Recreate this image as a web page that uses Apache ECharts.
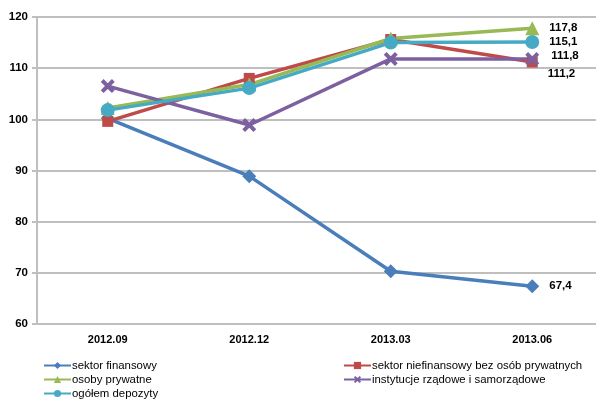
<!DOCTYPE html>
<html>
<head>
<meta charset="utf-8">
<script src="https://cdn.jsdelivr.net/npm/echarts@6/dist/echarts.min.js"></script>
<style>
html, body { margin: 0; padding: 0; background: #fff; }
#main { width: 596px; height: 401px; }
</style>
</head>
<body>
<div id="main"></div>
<script>
// kwartały
var kwartaly = ['2012.09', '2012.12', '2013.03', '2013.06'];

// wartości serii
var finansowy = [100.2, 88.9, 70.3, 67.4];
var niefinansowy = [99.6, 108.0, 115.6, 111.2];
var osoby = [102.2, 106.8, 115.8, 117.8];
var instytucje = [106.5, 98.9, 111.8, 111.8];
var ogolem = [101.8, 106.1, 115.0, 115.1];

var nazwy = ['sektor finansowy', 'sektor niefinansowy bez osób prywatnych', 'osoby prywatne',
	'instytucje rządowe i samorządowe', 'ogółem depozyty'];
var yTicks = [60, 70, 80, 90, 100, 110, 120];

var font = "'Liberation Sans', Arial, sans-serif";
var krzyzyk = 'path://M2,0 L5,3 L8,0 L10,2 L7,5 L10,8 L8,10 L5,7 L2,10 L0,8 L3,5 L0,2 Z';

// ostatni punkt dostaje etykietę z wartością
function dane(arr, offset) {
	return arr.map(function (v, i) {
		if (i < arr.length - 1) return v;
		return {
			value: v,
			label: {
				show: true,
				position: 'right',
				distance: 10,
				offset: offset,
				formatter: function (p) { return String(p.value).replace('.', ','); },
				color: '#000',
				fontWeight: 'bold',
				fontSize: 11.5,
				fontFamily: font
			}
		};
	});
}

function seria(name, arr, color, symbol, size, offset) {
	return {
		name: name,
		type: 'line',
		data: dane(arr, offset),
		symbol: symbol,
		symbolSize: size,
		lineStyle: { color: color, width: 3.5 },
		itemStyle: { color: color },
		z: 2
	};
}

// jedna legenda na pozycję (układ 2 kolumny)
function legenda(name, left, top) {
	return {
		data: [name],
		left: left,
		top: top,
		itemWidth: 27,
		itemHeight: 9,
		itemGap: 0,
		textStyle: { fontFamily: font, fontSize: 11.4, color: '#000', padding: [0, 0, 0, -4] }
	};
}

var chart = echarts.init(document.getElementById('main'));
var option = {
	animation: false,
	grid: { left: 37, right: -7, top: 17, bottom: 77, outerBoundsMode: 'none' },
	legend: [
		legenda(nazwy[0], 38, 355),
		legenda(nazwy[2], 38, 369),
		legenda(nazwy[4], 38, 383),
		legenda(nazwy[1], 338, 355),
		legenda(nazwy[3], 338, 369)
	],
	xAxis: {
		type: 'category',
		data: kwartaly,
		boundaryGap: true,
		axisLine: { lineStyle: { color: '#bfbfbf', width: 2 } },
		axisTick: { show: false },
		axisLabel: { color: '#000', fontWeight: 'bold', fontSize: 11, fontFamily: font, margin: 10 }
	},
	yAxis: {
		type: 'value',
		min: yTicks[0],
		max: yTicks[yTicks.length - 1],
		interval: 10,
		axisLine: { show: true, lineStyle: { color: '#bfbfbf', width: 2 } },
		axisTick: { show: true, length: 5, lineStyle: { color: '#bfbfbf', width: 2 } },
		splitLine: { lineStyle: { color: '#bfbfbf', width: 2 } },
		axisLabel: { color: '#000', fontWeight: 'bold', fontSize: 11.5, fontFamily: font, margin: 9 }
	},
	series: [
		seria(nazwy[0], finansowy, '#4a7ebb', 'diamond', 14, [0, 0]),
		seria(nazwy[1], niefinansowy, '#be4b48', 'rect', 11, [0, 12]),
		seria(nazwy[2], osoby, '#98b954', 'triangle', 14, [0, 0]),
		seria(nazwy[3], instytucje, '#7d60a0', krzyzyk, 14, [2, -3]),
		seria(nazwy[4], ogolem, '#46aac5', 'circle', 14, [0, 0])
	]
};
chart.setOption(option);
</script>
</body>
</html>
